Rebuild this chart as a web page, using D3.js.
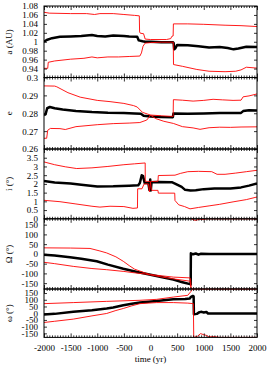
<!DOCTYPE html>
<html>
<head>
<meta charset="utf-8">
<script src="https://cdn.jsdelivr.net/npm/d3@7"></script>
<style>
  body { margin: 0; background: #fff; }
  text { font-family: "Liberation Serif", "Times New Roman", serif; font-size: 9px; fill: #000; }
</style>
</head>
<body>
<svg id="chart" width="270" height="368"></svg>
<script>
// x axis
const yearTicks = [-2000, -1500, -1000, -500, 0, 500, 1000, 1500, 2000];

// semi-major axis a (AU): nominal orbit (black) and clone envelope (red)
const aBlack = [[-2000,1.0],[-1950,1.004],[-1850,1.008],[-1700,1.011],[-1500,1.012],[-1300,1.013],[-1100,1.015],[-1000,1.013],[-850,1.012],[-700,1.014],[-500,1.013],[-400,1.012],[-250,1.011],[-220,1.003],[-150,1.001],[-100,1.0],[0,1.0],[200,0.999],[420,0.999],[435,0.997],[445,0.983],[470,0.986],[500,0.993],[700,0.992],[900,0.99],[1100,0.987],[1300,0.988],[1450,0.986],[1560,0.983],[1650,0.985],[1800,0.989],[2000,0.988]];
const aUpper = [[-2000,1.066],[-1900,1.064],[-1500,1.063],[-1200,1.063],[-1050,1.061],[-950,1.063],[-700,1.063],[-500,1.061],[-300,1.059],[-210,1.058],[-205,1.022],[-190,1.019],[-130,1.018],[-100,1.006],[0,1.005],[300,1.005],[380,1.007],[400,1.012],[425,1.013],[430,1.04],[700,1.04],[1000,1.039],[1400,1.037],[1700,1.036],[2000,1.034]];
const aLower = [[-2000,0.9405],[-1930,0.9405],[-1920,0.954],[-1800,0.957],[-1500,0.961],[-1250,0.963],[-1100,0.966],[-1000,0.964],[-800,0.966],[-600,0.966],[-400,0.967],[-200,0.968],[-170,0.975],[-140,0.99],[-100,0.997],[0,0.998],[200,0.999],[428,0.999],[432,0.949],[600,0.945],[870,0.938],[1100,0.934],[1400,0.933],[1600,0.934],[1700,0.937],[1800,0.943],[2000,0.941]];
const aTicks = [0.94, 0.96, 0.98, 1.0, 1.02, 1.04, 1.06, 1.08];

// eccentricity e
const eBlack = [[-2000,0.2789],[-1970,0.2795],[-1940,0.2828],[-1890,0.2835],[-1800,0.2828],[-1650,0.2821],[-1400,0.2813],[-1100,0.2807],[-800,0.2803],[-500,0.2801],[-300,0.2799],[-180,0.2797],[-130,0.2786],[0,0.2782],[200,0.2779],[420,0.2778],[430,0.2798],[700,0.2797],[1000,0.2799],[1300,0.2801],[1600,0.2802],[1700,0.2802],[1740,0.2812],[1850,0.2817],[2000,0.2815]];
const eUpper = [[-2000,0.2953],[-1800,0.2952],[-1760,0.2948],[-1550,0.2915],[-1320,0.289],[-1000,0.2872],[-760,0.2865],[-500,0.2855],[-320,0.2843],[-250,0.2835],[-150,0.2805],[-50,0.2795],[0,0.279],[200,0.2786],[425,0.2782],[430,0.2876],[600,0.2873],[800,0.2868],[1000,0.2872],[1175,0.2878],[1350,0.2875],[1550,0.2872],[1700,0.2873],[1740,0.2892],[1850,0.2897],[2000,0.2908]];
const eLower = [[-2000,0.266],[-1950,0.266],[-1930,0.2705],[-1880,0.2715],[-1700,0.2714],[-1600,0.2709],[-1400,0.2725],[-1000,0.2736],[-700,0.2742],[-400,0.2745],[-200,0.2748],[-70,0.2762],[0,0.2789],[100,0.277],[250,0.2755],[430,0.2743],[600,0.2725],[800,0.2718],[930,0.271],[1100,0.2719],[1300,0.2722],[1500,0.2721],[1700,0.2723],[2000,0.2724]];
const eTicks = [0.26, 0.27, 0.28, 0.29, 0.3];

// inclination i (deg)
const iBlack = [[-2000,2.17],[-1800,2.08],[-1500,2.02],[-1300,1.95],[-1000,1.85],[-700,1.86],[-400,1.9],[-230,1.92],[-200,2.05],[-165,2.5],[-140,2.45],[-110,2.05],[-40,2.05],[-20,1.65],[-5,2.25],[5,1.62],[20,2.1],[150,2.11],[400,2.1],[460,2.02],[585,1.83],[650,1.66],[750,1.62],[850,1.64],[1000,1.7],[1200,1.74],[1500,1.73],[1700,1.8],[1850,1.9],[2000,2.02]];
const iUpper = [[-2000,3.26],[-1800,3.1],[-1600,2.98],[-1386,2.88],[-1100,2.92],[-800,3.0],[-500,3.1],[-300,3.15],[-100,3.2],[-98,2.15],[0,2.14],[140,2.15],[147,2.48],[460,2.5],[560,2.6],[700,2.7],[900,2.72],[1150,2.7],[1250,2.55],[1400,2.55],[1600,2.62],[1800,2.7],[2000,2.78]];
const iLower = [[-2000,1.06],[-1700,0.98],[-1400,0.85],[-1100,0.72],[-950,0.67],[-760,0.72],[-500,0.7],[-330,0.6],[-245,0.62],[-241,1.72],[-160,1.72],[-120,2.0],[-40,2.0],[-20,1.55],[0,2.1],[20,1.63],[140,1.63],[147,1.47],[455,1.47],[460,1.05],[530,0.8],[640,0.7],[742,0.57],[900,0.65],[1100,0.74],[1300,0.83],[1550,0.97],[1800,1.1],[2000,1.25]];
const iTicks = [0, 0.5, 1, 1.5, 2, 2.5, 3, 3.5];

// longitude of node (deg); null breaks the line at the wrap
const nodeBlack = [[-2000,-4],[-1800,-8],[-1512,-17],[-1300,-25],[-1010,-38],[-800,-55],[-511,-76],[-250,-93],[0,-107],[200,-118],[428,-132],[600,-145],[742,-155],[755,-157],[758,3],[800,-2],[850,2],[900,-4],[950,1],[1100,-1],[1300,0],[1600,0],[2000,0]];
const nodeUpper = [[-2000,31],[-1500,30],[-1136,28],[-950,15],[-823,5],[-650,-15],[-511,-38],[-400,-60],[-300,-78],[-100,-98],[0,-106],[200,-112],[428,-119],[742,-123],[755,-140],[762,-180],null,[768,180],[800,175],[850,172],[920,178],[1000,176],[1050,180],[2000,180]];
const nodeLower = [[-2000,-43],[-1800,-50],[-1450,-64],[-1100,-75],[-823,-81],[-500,-90],[-300,-97],[-100,-103],[0,-108],[200,-118],[428,-128],[742,-140],[755,-165],[765,-180],[2000,-180]];
const angleTicks = [-150, -100, -50, 0, 50, 100, 150];

// argument of perihelion (deg)
const periBlack = [[-2000,-10],[-1800,-5],[-1450,10],[-1100,22],[-823,35],[-700,42],[-511,59],[-350,70],[-197,79],[116,91],[428,103],[650,106],[740,110],[760,122],[795,128],[810,125],[815,-8],[870,-5],[920,8],[960,10],[1000,5],[1050,9],[1080,-2],[2000,-2]];
const periUpper = [[-2000,71],[-1450,79],[-823,88],[-197,96],[116,103],[428,120],[700,133],[760,162],[790,180],[2000,180]];
const periLower = [[-2000,-69],[-1800,-60],[-1450,-44],[-1100,-20],[-823,-2],[-650,20],[-511,35],[-350,55],[-197,71],[116,79],[428,79],[700,75],[805,71],[812,-180],[880,-172],[940,-152],[1000,-160],[1050,-165],[1100,-176],[1200,-174],[1300,-180],[2000,-180]];

const svg = d3.select("#chart");
const left = 44, right = 257;

const x = d3.scaleLinear().domain([-2000, 2000]).range([left, right]);

const panels = [
  { top: 6,     bottom: 77.5,  domain: [0.92, 1.08], ticks: aTicks, label: "a (AU)", series: [aBlack, aUpper, aLower] },
  { top: 77.5,  bottom: 149,   domain: [0.26, 0.30], ticks: eTicks, label: "e",      series: [eBlack, eUpper, eLower] },
  { top: 149,   bottom: 218.8, domain: [0, 4],       ticks: iTicks, label: "i (\u00b0)", series: [iBlack, iUpper, iLower] },
  { top: 218.8, bottom: 289,   domain: [-180, 180],  ticks: angleTicks, label: "\u03a9 (\u00b0)", series: [nodeBlack, nodeUpper, nodeLower] },
  { top: 289,   bottom: 337.4, domain: [-180, 180],  ticks: angleTicks, label: "\u03c9 (\u00b0)", series: [periBlack, periUpper, periLower] }
];

const fmt = d => String(+d.toFixed(2));

panels.forEach((p, k) => {
  const y = d3.scaleLinear().domain(p.domain).range([p.bottom, p.top]);
  const g = svg.append("g");

  g.append("clipPath").attr("id", "clip" + k)
    .append("rect")
    .attr("x", left).attr("y", p.top)
    .attr("width", right - left).attr("height", p.bottom - p.top);

  const line = d3.line()
    .defined(d => d !== null)
    .x(d => x(d[0]))
    .y(d => y(d[1]));

  const plot = g.append("g").attr("clip-path", `url(#clip${k})`);
  plot.append("path").datum(p.series[0])
    .attr("fill", "none").attr("stroke", "#000").attr("stroke-width", 2.5)
    .attr("stroke-linejoin", "round").attr("d", line);
  p.series.slice(1).forEach(s => {
    plot.append("path").datum(s)
      .attr("fill", "none").attr("stroke", "#ff0000").attr("stroke-width", 0.9)
      .attr("d", line);
  });

  // y axes, ticks inward
  g.append("g").attr("transform", `translate(${left},0)`)
    .call(d3.axisLeft(y).tickValues(p.ticks).tickFormat(fmt).tickSizeInner(-3).tickSizeOuter(0).tickPadding(6))
    .call(a => a.select(".domain").remove());
  g.append("g").attr("transform", `translate(${right},0)`)
    .call(d3.axisRight(y).tickValues(p.ticks).tickFormat("").tickSizeInner(-3).tickSizeOuter(0))
    .call(a => a.select(".domain").remove());

  // x ticks top and bottom (major + minor)
  const minor = d3.range(-2000, 2001, 50).filter(v => v % 500 !== 0);
  [[p.bottom, d3.axisBottom], [p.top, d3.axisTop]].forEach(([yy, ax]) => {
    g.append("g").attr("transform", `translate(0,${yy})`)
      .call(ax(x).tickValues(minor).tickFormat("").tickSizeInner(-2).tickSizeOuter(0))
      .call(a => a.select(".domain").remove());
    const major = g.append("g").attr("transform", `translate(0,${yy})`)
      .call(ax(x).tickValues(yearTicks).tickFormat(d => String(d)).tickSizeInner(-4).tickSizeOuter(0).tickPadding(7))
      .call(a => a.select(".domain").remove());
    if (!(ax === d3.axisBottom && k === panels.length - 1)) major.selectAll("text").remove();
  });

  g.append("rect")
    .attr("x", left).attr("y", p.top)
    .attr("width", right - left).attr("height", p.bottom - p.top)
    .attr("fill", "none").attr("stroke", "#000").attr("stroke-width", 1);

  g.append("text")
    .attr("transform", `translate(12,${(p.top + p.bottom) / 2}) rotate(-90)`)
    .attr("text-anchor", "middle")
    .text(p.label);
});

svg.selectAll(".tick text").attr("font-family", null).attr("font-size", null);
svg.selectAll(".tick line").attr("stroke", "#000").attr("stroke-width", 0.8);

svg.append("text")
  .attr("x", (left + right) / 2).attr("y", 362)
  .attr("text-anchor", "middle")
  .text("time (yr)");
</script>
</body>
</html>
